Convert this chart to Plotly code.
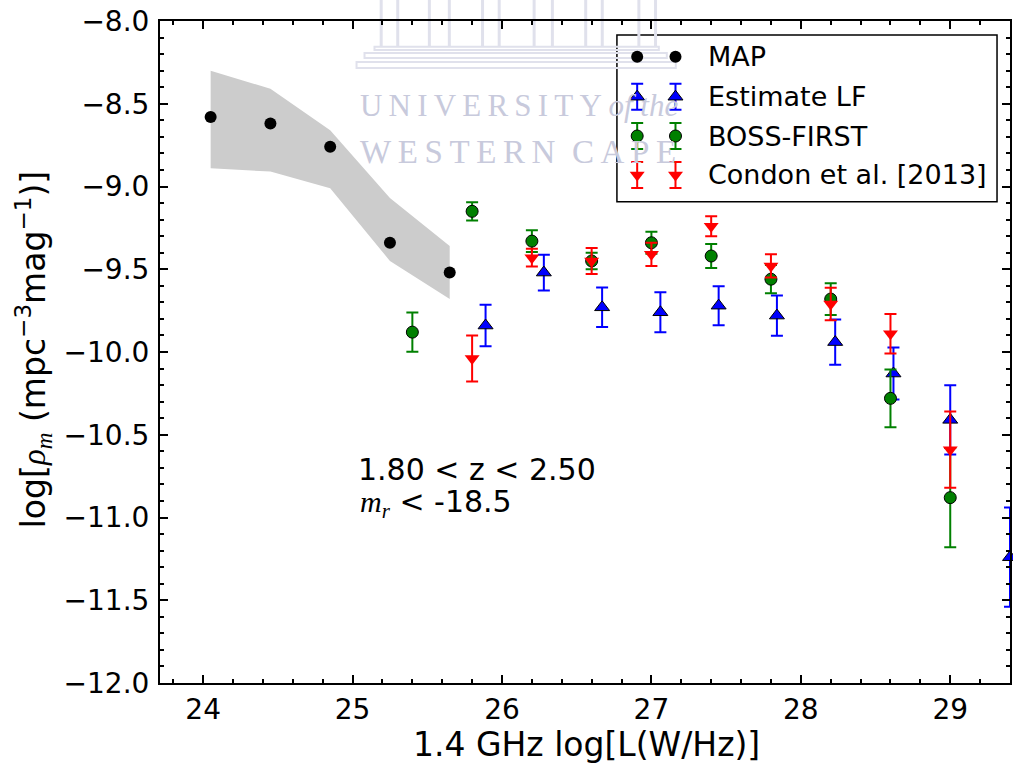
import plotly.graph_objects as go

# ---- data -------------------------------------------------------------
# MAP estimate with its uncertainty band
map_x = [24.05, 24.45, 24.85, 25.25, 25.65]
map_y = [-8.58, -8.62, -8.76, -9.34, -9.52]
map_hi = [-8.30, -8.41, -8.66, -9.07, -9.36]
map_lo = [-8.89, -8.91, -9.01, -9.45, -9.68]

# Estimated luminosity function
lf_x = [25.89, 26.28, 26.67, 27.06, 27.45, 27.84, 28.23, 28.62, 29.0, 29.4]
lf_y = [-9.84, -9.52, -9.73, -9.76, -9.72, -9.78, -9.94, -10.13, -10.41, -11.24]
lf_err = [0.126, 0.108, 0.119, 0.121, 0.118, 0.122, 0.137, 0.157, 0.209, 0.30]

# BOSS-FIRST
boss_x = [25.4, 25.8, 26.2, 26.6, 27.0, 27.4, 27.8, 28.2, 28.6, 29.0]
boss_y = [-9.88, -9.15, -9.33, -9.45, -9.34, -9.42, -9.56, -9.68, -10.28, -10.88]
boss_err = [0.119, 0.055, 0.066, 0.05, 0.066, 0.073, 0.085, 0.096, 0.175, 0.30]

# Condon et al. (2013)
condon_x = [25.8, 26.2, 26.6, 27.0, 27.4, 27.8, 28.2, 28.6, 29.0]
condon_y = [-10.04, -9.43, -9.45, -9.41, -9.24, -9.48, -9.71, -9.89, -10.59]
condon_err = [0.139, 0.054, 0.078, 0.07, 0.06, 0.07, 0.098, 0.119, 0.23]

legend_labels = ["MAP", "Estimate LF", "BOSS-FIRST", "Condon et al. [2013]"]

# ---- geometry of the plotting area (pixels) ---------------------------
W, H = 1013, 764
PL, PR, PT, PB = 160, 1012, 21, 683
X_RANGE = [23.711, 29.4]
Y_RANGE = [-12.0, -8.0]


def fx(px):
    return (px - PL) / (PR - PL)


def fy(py):
    return (PB - py) / (PB - PT)


FONT = "DejaVu Sans, Liberation Sans, sans-serif"
SERIF = "Liberation Serif, DejaVu Serif, serif"
BLUE, GREEN, RED = "#0000ff", "#008000", "#ff0000"

fig = go.Figure()

# uncertainty band of the MAP estimate
fig.add_trace(go.Scatter(
    x=map_x + map_x[::-1], y=map_hi + map_lo[::-1],
    fill="toself", fillcolor="#cccccc", line=dict(width=0),
    mode="lines", hoverinfo="skip", showlegend=False))

fig.add_trace(go.Scatter(
    x=map_x, y=map_y, mode="markers", name=legend_labels[0],
    marker=dict(symbol="circle", size=12, color="black", line=dict(width=0)),
    cliponaxis=False, showlegend=False))


def err(arr, color):
    return dict(type="data", array=arr, visible=True, color=color,
                thickness=2, width=6)


fig.add_trace(go.Scatter(
    x=lf_x, y=lf_y, mode="markers", name=legend_labels[1],
    error_y=err(lf_err, BLUE),
    marker=dict(symbol="triangle-up", size=13, color=BLUE,
                line=dict(width=1, color="black")),
    cliponaxis=False, showlegend=False))

fig.add_trace(go.Scatter(
    x=boss_x, y=boss_y, mode="markers", name=legend_labels[2],
    error_y=err(boss_err, GREEN),
    marker=dict(symbol="circle", size=12, color=GREEN,
                line=dict(width=1, color="black")),
    cliponaxis=False, showlegend=False))

fig.add_trace(go.Scatter(
    x=condon_x, y=condon_y, mode="markers", name=legend_labels[3],
    error_y=err(condon_err, RED),
    marker=dict(symbol="triangle-down", size=13, color=RED,
                line=dict(width=0)),
    cliponaxis=False, showlegend=False))

# ---- legend drawn on a pixel-based overlay axis -----------------------
leg_rows = [56.7, 96.7, 136.0, 175.0]
leg_cols = [638.3, 676.7]
leg_styles = [
    dict(symbol="circle", size=12, color="black", line=dict(width=0)),
    dict(symbol="triangle-up", size=13, color=BLUE, line=dict(width=1, color="black")),
    dict(symbol="circle", size=12, color=GREEN, line=dict(width=1, color="black")),
    dict(symbol="triangle-down", size=13, color=RED, line=dict(width=0)),
]
leg_err_color = [None, BLUE, GREEN, RED]
for row, style, ecol in zip(leg_rows, leg_styles, leg_err_color):
    tr = dict(x=leg_cols, y=[row, row], mode="markers", marker=style,
              xaxis="x2", yaxis="y2", hoverinfo="skip", showlegend=False,
              cliponaxis=False)
    if ecol:
        tr["error_y"] = dict(type="data", array=[13, 13], visible=True,
                             color=ecol, thickness=2, width=6)
    fig.add_trace(go.Scatter(**tr))

shapes = []
annotations = []

# legend frame
shapes.append(dict(type="rect", xref="paper", yref="paper",
                   x0=fx(618), x1=fx(999), y0=fy(201.7), y1=fy(35),
                   line=dict(color="black", width=1.5), fillcolor="white",
                   layer="below"))
for row, lab in zip(leg_rows, legend_labels):
    annotations.append(dict(xref="paper", yref="paper", x=fx(707), y=fy(row),
                            xanchor="left", yanchor="middle", showarrow=False,
                            text=lab, font=dict(family=FONT, size=27, color="black")))

# ---- faint repository watermark ---------------------------------------
WM = "#c8cadc"
WM_LIGHT = "#e0e1ec"
for x0, x1 in [(381.7, 398.3), (430, 450), (483.3, 500), (535, 553.3),
               (586.7, 603.3), (640, 656.7)]:
    for xx in (x0, x1):
        shapes.append(dict(type="line", xref="paper", yref="paper",
                           x0=fx(xx), x1=fx(xx), y0=fy(46), y1=fy(0),
                           line=dict(color=WM_LIGHT, width=3), layer="below"))
for (y0, y1, xa, xb) in [(46.7, 50, 375, 660), (53, 58, 365, 668), (62, 68, 357, 677)]:
    shapes.append(dict(type="rect", xref="paper", yref="paper",
                       x0=fx(xa), x1=fx(xb), y0=fy(y1), y1=fy(y0),
                       line=dict(color=WM_LIGHT, width=2), fillcolor="rgba(0,0,0,0)",
                       layer="below"))

ts = "\u2009"
annotations.append(dict(
    xref="paper", yref="paper", x=fx(358), y=fy(106), xanchor="left", yanchor="middle",
    showarrow=False,
    text=ts.join("UNIVERSITY") + " <i>of the</i>",
    font=dict(family=SERIF, size=31, color=WM)))
annotations.append(dict(
    xref="paper", yref="paper", x=fx(358), y=fy(152), xanchor="left", yanchor="middle",
    showarrow=False,
    text=ts.join("WESTERN") + "  " + ts.join("CAPE"),
    font=dict(family=SERIF, size=33, color=WM)))

# ---- in-plot labels ---------------------------------------------------
annotations.append(dict(
    xref="paper", yref="paper", x=fx(356), y=fy(469), xanchor="left", yanchor="middle",
    showarrow=False, text="1.80 &lt; z &lt; 2.50",
    font=dict(family=FONT, size=30, color="black")))
annotations.append(dict(
    xref="paper", yref="paper", x=fx(358), y=fy(503), xanchor="left", yanchor="middle",
    showarrow=False,
    text=('<span style="font-family:Liberation Serif"><i>m</i></span>'
          '<sub><span style="font-family:Liberation Serif"><i>r</i></span></sub>'
          " &lt; -18.5"),
    font=dict(family=FONT, size=30, color="black")))

# axis titles
annotations.append(dict(
    xref="paper", yref="paper", x=fx(588), y=fy(765), xanchor="center", yanchor="bottom",
    borderpad=0, showarrow=False, text="1.4 GHz log[L(W/Hz)]",
    font=dict(family=FONT, size=33, color="black")))
annotations.append(dict(
    xref="paper", yref="paper", x=fx(33), y=fy(349), xanchor="center", yanchor="middle",
    showarrow=False, textangle=-90,
    text=('log[<span style="font-family:Liberation Serif"><i>ρ</i></span>'
          '<sub><span style="font-family:Liberation Serif"><i>m</i></span></sub>'
          ' (mpc<sup>−3</sup>mag<sup>−1</sup>)]'),
    font=dict(family=FONT, size=33, color="black")))

axis_common = dict(
    showgrid=False, zeroline=False, showline=True, linecolor="black", linewidth=2,
    mirror="allticks", ticks="inside", ticklen=8, tickwidth=2, tickcolor="black",
    tickfont=dict(family=FONT, size=28, color="black"),
)

fig.update_layout(
    width=W, height=H,
    margin=dict(l=PL, r=W - PR, t=PT, b=H - PB, pad=0),
    paper_bgcolor="white", plot_bgcolor="white",
    showlegend=False,
    xaxis=dict(range=X_RANGE, dtick=1, tick0=24, tickformat="d",
               minor=dict(dtick=0.2, tick0=24, ticks="inside", ticklen=4,
                          tickwidth=2, tickcolor="black"),
               ticklabelstandoff=0,
               **axis_common),
    yaxis=dict(range=Y_RANGE, dtick=0.5, tick0=-8, tickformat=".1f",
               minor=dict(dtick=0.1, tick0=-8, ticks="inside", ticklen=4,
                          tickwidth=2, tickcolor="black"),
               ticklabelstandoff=3,
               **axis_common),
    xaxis2=dict(range=[PL, PR], overlaying="x", visible=False, fixedrange=True),
    yaxis2=dict(range=[PB, PT], overlaying="y", visible=False, fixedrange=True),
    shapes=shapes,
    annotations=annotations,
)

fig.write_html("out.html")
